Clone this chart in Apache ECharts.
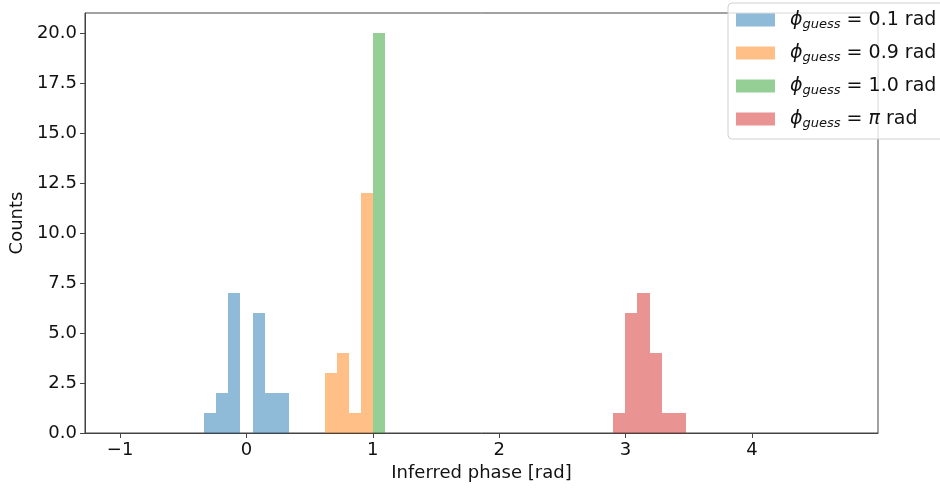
<!DOCTYPE html>
<html>
<head>
    <meta charset="UTF-8">
    <title>Inferred phase histogram</title>
    <script src="https://cdn.jsdelivr.net/npm/echarts@6/dist/echarts.min.js"></script>
    <style>
        body { margin: 0; background: #fff; }
        #chart { width: 940px; height: 488px; }
    </style>
</head>
<body>
    <div id="chart"></div>
    <script>
        // histogram bins (left edge of each bin, counts)
        var binWidth = 0.0952;
        var guessLabels = ['0.1', '0.9', '1.0', 'π'];
        var blueStarts = [-0.333, -0.238, -0.143, 0.048, 0.143, 0.238];
        var blueCounts = [1, 2, 7, 6, 2, 2];
        var orangeStarts = [0.619, 0.714, 0.809, 0.905];
        var orangeCounts = [3, 4, 1, 12];
        var greenStarts = [1.0];
        var greenCounts = [20];
        var redStarts = [2.904, 2.999, 3.094, 3.190, 3.285, 3.380];
        var redCounts = [1, 6, 7, 4, 1, 1];
        var xTicks = [-1, 0, 1, 2, 3, 4];
        var yTicks = [0, 2.5, 5, 7.5, 10, 12.5, 15, 17.5, 20];

        var colors = ['rgba(31,119,180,0.5)', 'rgba(255,127,14,0.5)', 'rgba(44,160,44,0.5)', 'rgba(214,39,40,0.5)'];
        var allStarts = [blueStarts, orangeStarts, greenStarts, redStarts];
        var allCounts = [blueCounts, orangeCounts, greenCounts, redCounts];
        var names = guessLabels.map(function (g) { return 'phi_guess = ' + g + ' rad'; });

        var font = 'DejaVu Sans';
        var chart = echarts.init(document.getElementById('chart'), null, {renderer: 'canvas'});

        function renderBin(params, api) {
            // snap to whole pixels so neighbouring bins meet without seams
            var topLeft = api.coord([api.value(0), api.value(2)]);
            var bottomRight = api.coord([api.value(1), 0]);
            var x0 = Math.round(topLeft[0]), x1 = Math.round(bottomRight[0]);
            var y0 = Math.round(topLeft[1]), y1 = Math.round(bottomRight[1]);
            return {
                type: 'rect',
                shape: {x: x0, y: y0, width: x1 - x0, height: y1 - y0},
                style: {fill: api.visual('color')}
            };
        }

        var series = names.map(function (name, k) {
            var starts = allStarts[k];
            var data = starts.map(function (s, i) {
                var end = s + binWidth;
                // a bin that touches the next one ends exactly where it starts
                if (i + 1 < starts.length && Math.abs(starts[i + 1] - end) < 0.01) end = starts[i + 1];
                return [s, end, allCounts[k][i]];
            });
            return {
                name: name,
                type: 'custom',
                renderItem: renderBin,
                itemStyle: {color: colors[k]},
                encode: {x: [0, 1], y: 2},
                data: data
            };
        });

        chart.setOption({
            animation: false,
            grid: {
                left: 81, right: 62, top: 13, bottom: 55,
                show: true, borderColor: '#444', borderWidth: 1
            },
            legend: {
                left: 728, top: 3,
                orient: 'vertical',
                icon: 'rect',
                itemWidth: 39, itemHeight: 13, itemGap: 9,
                padding: [5, 8, 8, 8],
                backgroundColor: 'rgba(255,255,255,0.8)',
                borderColor: '#d0d0d0', borderWidth: 1, borderRadius: 4,
                data: names,
                formatter: function (name) {
                    var g = guessLabels[names.indexOf(name)];
                    var val = g === 'π' ? '{pi|π}' : '{txt|' + g + '}';
                    return '{phi|ϕ}{sub|guess}{txt| = }' + val + '{txt| rad}';
                },
                textStyle: {
                    padding: [0, 0, 0, 10],
                    lineHeight: 24,
                    rich: {
                        phi: {fontFamily: font, fontSize: 19, fontStyle: 'italic', color: '#111'},
                        sub: {fontFamily: font, fontSize: 13, fontStyle: 'italic', color: '#111', padding: [10, 0, 0, 0]},
                        txt: {fontFamily: font, fontSize: 19, color: '#111'},
                        pi: {fontFamily: font, fontSize: 19, fontStyle: 'italic', color: '#111'}
                    }
                }
            },
            xAxis: {
                type: 'value',
                min: -1.278, max: 4.998,
                name: 'Inferred phase [rad]',
                nameLocation: 'middle',
                nameGap: 25,
                nameTextStyle: {fontFamily: font, fontSize: 18, color: '#111'},
                splitLine: {show: false},
                axisLine: {onZero: false, lineStyle: {color: '#444'}},
                axisTick: {customValues: xTicks, length: 5, lineStyle: {color: '#444'}},
                axisLabel: {
                    customValues: xTicks,
                    margin: 8,
                    fontFamily: font, fontSize: 18, color: '#111',
                    formatter: function (v) { return String(v).replace('-', '\u2212'); }
                }
            },
            yAxis: {
                type: 'value',
                min: 0, max: 21,
                name: 'Counts',
                nameLocation: 'middle',
                nameGap: 50,
                nameTextStyle: {fontFamily: font, fontSize: 18, color: '#111'},
                splitLine: {show: false},
                axisLine: {show: true, onZero: false, lineStyle: {color: '#444'}},
                axisTick: {show: true, customValues: yTicks, length: 5, lineStyle: {color: '#444'}},
                axisLabel: {
                    customValues: yTicks,
                    margin: 8,
                    fontFamily: font, fontSize: 18, color: '#111',
                    formatter: function (v) { return v.toFixed(1); }
                }
            },
            series: series
        });
    </script>
</body>
</html>
